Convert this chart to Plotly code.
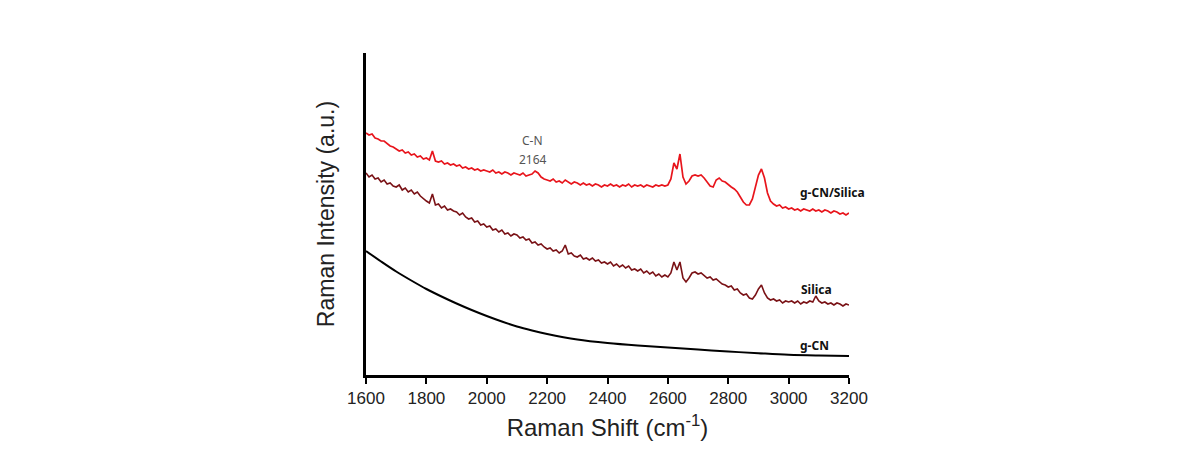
import plotly.graph_objects as go

# Raman shift grid (cm^-1) for the noisy spectra, step 10
shift = list(range(1600, 3201, 10))

# g-CN/Silica (red) intensity, arbitrary units
gcn_silica = [
    242, 240, 241, 237, 236, 234, 234, 231, 229, 228,
    226, 224, 225, 222, 223, 220, 221, 218, 219, 216,
    217, 215, 224, 214, 213, 214, 211, 212, 210, 211,
    209, 210, 207, 208, 206, 207, 205, 206, 204, 205,
    204, 203, 205, 202, 203, 201, 203, 202, 200, 202,
    201, 200, 202, 199, 200, 201, 204, 202, 198, 196,
    195, 194, 196, 193, 194, 192, 195, 193, 191, 193,
    192, 190, 192, 190, 191, 189, 191, 190, 188, 190,
    189, 191, 189, 190, 188, 190, 189, 191, 188, 190,
    189, 190, 188, 190, 189, 188, 190, 189, 190, 189,
    190, 196, 212, 206, 221, 198, 191, 194, 199, 200,
    199, 200, 197, 193, 189, 188, 195, 197, 194, 193,
    190, 188, 186, 183, 178, 173, 170, 170, 176, 188,
    200, 206, 197, 182, 174, 171, 169, 170, 167, 168,
    166, 167, 165, 166, 164, 166, 165, 164, 166, 164,
    165, 163, 165, 164, 162, 164, 163, 161, 162, 160,
    162,
]

# Silica (dark red) intensity, arbitrary units
silica = [
    202, 198, 200, 196, 197, 193, 195, 191, 192, 189,
    188, 190, 185, 187, 183, 185, 181, 183, 179, 176,
    174, 172, 181, 170, 171, 167, 169, 165, 166, 164,
    163, 160, 162, 158, 156, 157, 153, 154, 150, 151,
    148, 149, 145, 146, 143, 145, 141, 142, 139, 141,
    140, 137, 138, 135, 136, 132, 133, 130, 131, 128,
    126, 127, 124, 125, 122, 124, 130, 121, 122, 119,
    118, 120, 116, 117, 115, 117, 114, 115, 112, 113,
    111, 113, 109, 111, 108, 110, 107, 109, 105, 106,
    104, 106, 102, 104, 101, 103, 99, 101, 98, 100,
    98, 102, 113, 105, 113, 97, 93, 97, 102, 103,
    101, 102, 99, 97, 98, 95, 96, 93, 91, 90,
    88, 89, 85, 86, 82, 80, 81, 77, 76, 80,
    86, 90, 82, 77, 75, 76, 74, 75, 72, 74,
    73, 74, 72, 74, 71, 73, 72, 74, 73, 79,
    74, 72, 73, 71, 72, 70, 72, 71, 69, 71,
    70,
]

# g-CN (black), smooth baseline
gcn_shift = [1600, 1650, 1700, 1750, 1800, 1850, 1900, 1950, 2000, 2050, 2100,
             2150, 2200, 2300, 2400, 2500, 2600, 2700, 2800, 2900, 3000, 3100, 3200]
gcn = [124, 113.5, 103.5, 94.5, 86, 78.5, 71.5, 65, 59, 53.5, 48.5,
       44.5, 41, 35.5, 32, 29.5, 27.5, 25.5, 23.5, 21.8, 20.3, 19.5, 19]

x_ticks = [1600, 1800, 2000, 2200, 2400, 2600, 2800, 3000, 3200]

fig = go.Figure()
fig.add_trace(go.Scatter(x=gcn_shift, y=gcn, mode="lines", line=dict(color="#000000", width=2, shape="spline"),
                         name="g-CN", showlegend=False))
fig.add_trace(go.Scatter(x=shift, y=silica, mode="lines", line=dict(color="#7a1216", width=1.6),
                         name="Silica", showlegend=False))
fig.add_trace(go.Scatter(x=shift, y=gcn_silica, mode="lines", line=dict(color="#e8151c", width=1.7),
                         name="g-CN/Silica", showlegend=False))

lab_font = dict(family="Noto Sans, DejaVu Sans, sans-serif", size=12, color="#111111")
cn_font = dict(family="Noto Sans, DejaVu Sans, sans-serif", size=12, color="#555555")
annotations = [
    dict(x=3032, y=183, text="<b>g-CN/Silica</b>", xanchor="left", yanchor="middle", showarrow=False, font=lab_font),
    dict(x=3036, y=86, text="<b>Silica</b>", xanchor="left", yanchor="middle", showarrow=False, font=lab_font),
    dict(x=3030, y=30, text="<b>g-CN</b>", xanchor="left", yanchor="middle", showarrow=False, font=lab_font),
    dict(x=2153, y=235, text="C-N", xanchor="center", yanchor="middle", showarrow=False, font=cn_font),
    dict(x=2153, y=216, text="2164", xanchor="center", yanchor="middle", showarrow=False, font=cn_font),
]

# page body has an 8px margin: figure sized so the plot lands where the reference has it
fig.update_layout(
    width=1174, height=450,
    margin=dict(l=358, r=333, t=45, b=83),
    paper_bgcolor="white", plot_bgcolor="white",
    annotations=annotations,
    font=dict(family="Liberation Sans, Arial, sans-serif", color="#222222"),
)
fig.update_xaxes(
    range=[1600, 3200], tickvals=x_ticks, ticktext=[str(v) for v in x_ticks],
    showgrid=False, zeroline=False, showline=True, linecolor="black", linewidth=2.5,
    ticks="outside", ticklen=6, tickwidth=2, tickcolor="black",
    tickfont=dict(size=17, family="Liberation Sans, Arial, sans-serif", color="#222222"),
    title=dict(text="Raman Shift (cm<sup>-1</sup>)", standoff=13,
               font=dict(size=24, family="Liberation Sans, Arial, sans-serif", color="#222222")),
)
fig.update_yaxes(
    range=[0, 322], showticklabels=False, ticks="",
    showgrid=False, zeroline=False, showline=True, linecolor="black", linewidth=2.5,
    title=dict(text="Raman Intensity (a.u.)", standoff=23,
               font=dict(size=23, family="Liberation Sans, Arial, sans-serif", color="#222222")),
)

fig.write_html("out.html")
